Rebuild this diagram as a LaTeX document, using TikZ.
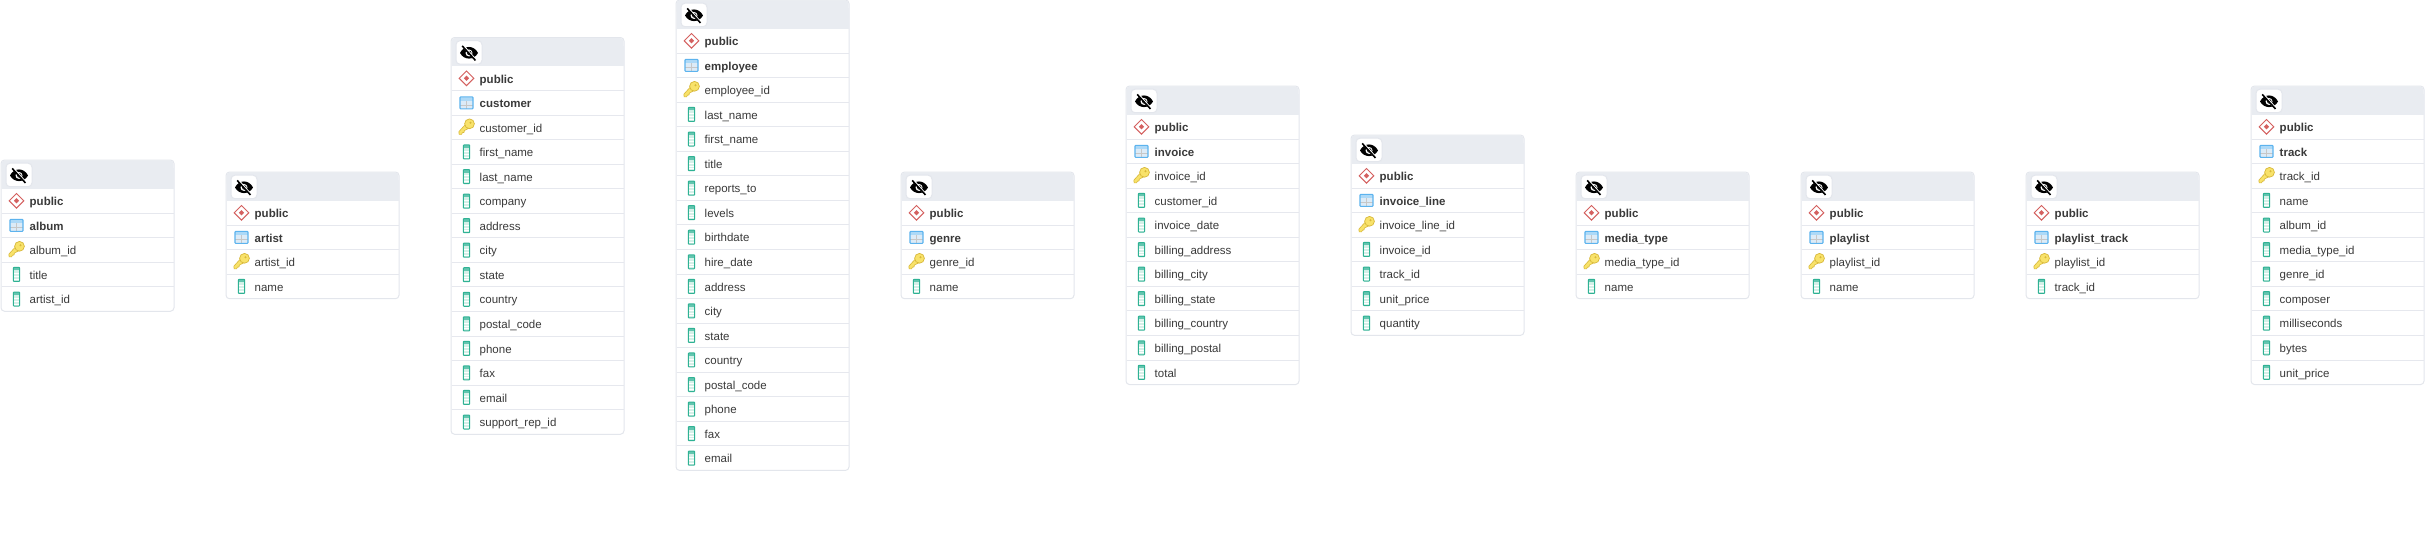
\documentclass[tikz,border=0pt]{standalone}
\usepackage{fontspec}
\setmainfont{Liberation Sans}

\definecolor{cardline}{HTML}{E3E6EC}
\definecolor{cardhead}{HTML}{E9ECF1}
\definecolor{rowline}{HTML}{E6E8EE}
\definecolor{labeltext}{HTML}{3A3A3A}
\definecolor{schemared}{HTML}{D4605F}
\definecolor{tableblue}{HTML}{5CB3EE}
\definecolor{tablepale}{HTML}{DCEBF7}
\definecolor{keygold}{HTML}{F8E26A}
\definecolor{keyedge}{HTML}{D8B83A}
\definecolor{columngreen}{HTML}{2FB294}
\definecolor{columnpale}{HTML}{D5F0E8}

\tikzset{
  cardbox/.style={draw=cardline,line width=1pt,fill=white,rounded corners=3.5pt,anchor=north west,
    minimum width=173pt,inner sep=0pt,outer sep=0pt},
  eyebtn/.style={draw=cardline,line width=1pt,fill=white,rounded corners=4pt,anchor=north west,
    minimum width=26pt,minimum height=23.5pt,inner sep=0pt},
  rowlabel/.style={anchor=base west,inner sep=0pt,text=labeltext,font=\fontsize{11.5}{14}\selectfont},
  boldlabel/.style={rowlabel,font=\fontsize{11.5}{14}\selectfont\bfseries},
  pics/eyeicon/.style={code={
    \fill[black] (-9,0.5) .. controls (-5,-7.5) and (5,-7.5) .. (9,0.5) .. controls (5,8) and (-5,8) .. (-9,0.5) -- cycle;
    \fill[white] (0,0.5) circle (3.5);
    \fill[black] (0.3,0.5) circle (2.2);
    \draw[white,line width=2.2pt] (-6.2,-7) -- (7.1,8);
    \draw[black,line width=1.6pt] (-6.8,-6.5) -- (6.5,8);
  }},
  pics/schemaicon/.style={code={
    \draw[schemared,line width=1pt,fill=white] (-7.3,0) -- (0,-7.3) -- (7.3,0) -- (0,7.3) -- cycle;
    \fill[schemared] (-2.6,0) -- (0,-2.6) -- (2.6,0) -- (0,2.6) -- cycle;
  }},
  pics/tableicon/.style={code={
    \fill[tablepale] (-6.5,-6) rectangle (6.5,6);
    \fill[tableblue!50] (-6.5,-6) rectangle (6.5,-2);
    \draw[black!22,line width=0.7pt] (-6.5,2) -- (6.5,2) (0,-2) -- (0,6);
    \draw[tableblue,line width=1.1pt,rounded corners=0.8pt] (-6.5,-6) rectangle (6.5,6);
  }},
  pics/keyicon/.style={code={
    \draw[keyedge,fill=keygold,line width=0.6pt,line join=round]
      (-1.6,-2.4) -- (-7.6,4.2) -- (-7.4,7) -- (-5,7) -- (-4,5.2) -- (-2.4,5) -- (-2.2,3.2) -- (2,1) -- cycle;
    \draw[keyedge,fill=keygold,line width=0.7pt] (3,-3.6) circle (4.9);
    \fill[keyedge] (4,-4.6) circle (1.1);
  }},
  pics/columnicon/.style={code={
    \fill[columnpale] (-3.2,-7) rectangle (3.2,7);
    \fill[columngreen!75] (-3.2,-7) rectangle (3.2,-4);
    \draw[white,line width=0.7pt] (-3.2,-0.7) -- (3.2,-0.7) (-3.2,2.3) -- (3.2,2.3) (-3.2,4.9) -- (3.2,4.9);
    \draw[columngreen,line width=1pt,rounded corners=0.7pt] (-3.2,-7) rectangle (3.2,7);
  }}
}

% #1 id, #2 left, #3 top, #4 rows in all, #5 table, #6 key column, #7 other columns
\newcommand{\tablecard}[7]{
  \pgfmathsetmacro\cardh{28.5+24.55*#4}
  \node[cardbox,minimum height=\cardh pt] (#1) at (#2,#3) {};
  \fill[cardhead,rounded corners=3.5pt] (#2+0.5,#3+0.5) rectangle (#2+172.5,#3+14);
  \fill[cardhead] (#2+0.5,#3+8) rectangle (#2+172.5,#3+28.5);
  \node[eyebtn] (#1-btn) at (#2+4.5,#3+2.7) {};
  \pic at (#1-btn.center) {eyeicon};
  \pgfmathsetmacro\rowy{#3+28.5}
  \pic at (#2+15.5,\rowy+12.3) {schemaicon};
  \node[boldlabel] (#1-schema) at (#2+28.5,\rowy+17) {public};
  \pgfmathsetmacro\rowy{#3+28.5+24.55}
  \draw[rowline,line width=1pt] (#2+0.5,\rowy) -- (#2+172.5,\rowy);
  \pic at (#2+15.5,\rowy+12.3) {tableicon};
  \node[boldlabel] (#1-table) at (#2+28.5,\rowy+17) {#5};
  \pgfmathsetmacro\rowy{#3+28.5+2*24.55}
  \draw[rowline,line width=1pt] (#2+0.5,\rowy) -- (#2+172.5,\rowy);
  \pic at (#2+15.5,\rowy+12.3) {keyicon};
  \node[rowlabel] (#1-key) at (#2+28.5,\rowy+17) {#6};
  \foreach \colname [count=\i] in {#7} {
    \pgfmathsetmacro\rowy{#3+28.5+(\i+2)*24.55}
    \draw[rowline,line width=1pt] (#2+0.5,\rowy) -- (#2+172.5,\rowy);
    \pic at (#2+15.5,\rowy+12.3) {columnicon};
    \node[rowlabel] (#1-col\i) at (#2+28.5,\rowy+17) {\colname};
  }
}

\begin{document}
\begin{tikzpicture}[x=1pt,y=-1pt]
  \useasboundingbox (0,0) rectangle (2435,547);
  \tablecard{album}{1}{160}{5}{album}{album\_id}{title,artist\_id}
  \tablecard{artist}{226}{172}{4}{artist}{artist\_id}{name}
  \tablecard{customer}{451}{37.5}{15}{customer}{customer\_id}{first\_name,last\_name,company,address,city,state,country,postal\_code,phone,fax,email,support\_rep\_id}
  \tablecard{employee}{676}{0}{18}{employee}{employee\_id}{last\_name,first\_name,title,reports\_to,levels,birthdate,hire\_date,address,city,state,country,postal\_code,phone,fax,email}
  \tablecard{genre}{901}{172}{4}{genre}{genre\_id}{name}
  \tablecard{invoice}{1126}{86}{11}{invoice}{invoice\_id}{customer\_id,invoice\_date,billing\_address,billing\_city,billing\_state,billing\_country,billing\_postal,total}
  \tablecard{invoiceline}{1351}{135}{7}{invoice\_line}{invoice\_line\_id}{invoice\_id,track\_id,unit\_price,quantity}
  \tablecard{mediatype}{1576}{172}{4}{media\_type}{media\_type\_id}{name}
  \tablecard{playlist}{1801}{172}{4}{playlist}{playlist\_id}{name}
  \tablecard{playlisttrack}{2026}{172}{4}{playlist\_track}{playlist\_id}{track\_id}
  \tablecard{track}{2251}{86}{11}{track}{track\_id}{name,album\_id,media\_type\_id,genre\_id,composer,milliseconds,bytes,unit\_price}
\end{tikzpicture}
\end{document}
